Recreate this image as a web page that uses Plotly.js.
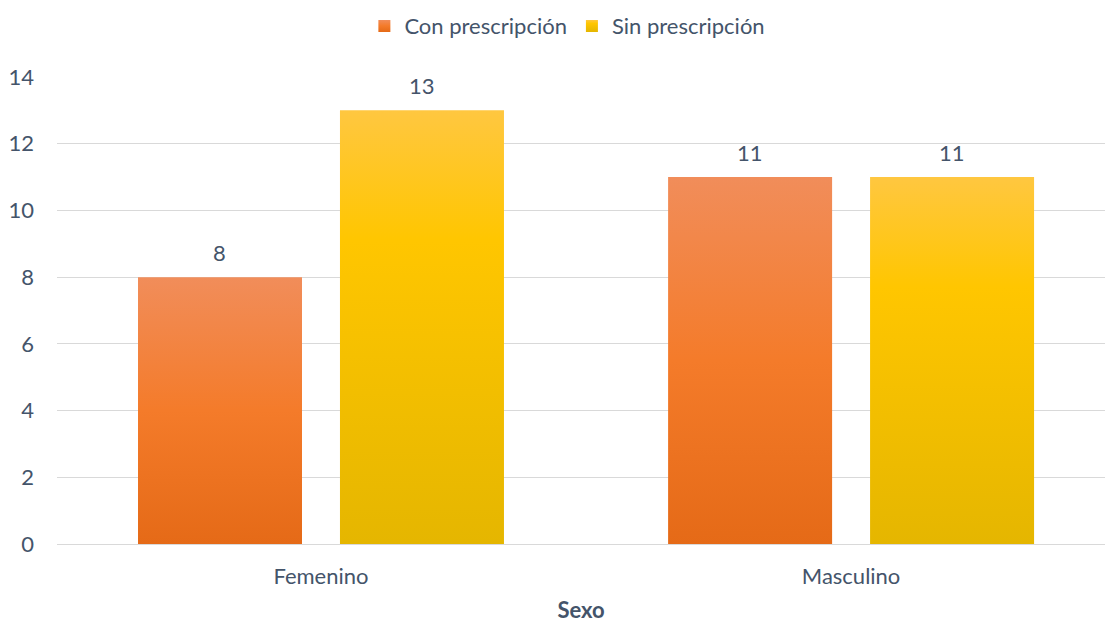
<!DOCTYPE html>
<html>
<head>
<meta charset="utf-8">
<script src="https://cdn.plot.ly/plotly-3.0.1.min.js"></script>
<style>html,body{margin:0;padding:0;background:#fff;}#chart{width:1107px;height:623px;}</style>
</head>
<body>
<div id="chart"></div>
<script>
const categories = ["Femenino", "Masculino"];
const seriesNames = ["Con prescripción", "Sin prescripción"];
const conPrescripcion = [8, 11];
const sinPrescripcion = [13, 11];
const yTicks = [0, 2, 4, 6, 8, 10, 12, 14];
const xTitle = "Sexo";

const FONT = "Lato, 'Noto Sans', sans-serif";
const TXT = "#44546A";
const FS = 22;

const traces = [
  {type: "bar", name: seriesNames[0], x: categories, y: conPrescripcion,
   marker: {color: "#F07D30"}, hoverinfo: "skip"},
  {type: "bar", name: seriesNames[1], x: categories, y: sinPrescripcion,
   marker: {color: "#F5C000"}, hoverinfo: "skip"}
];

// data labels placed via the library's scales (category + group offset)
const annotations = [];
[conPrescripcion, sinPrescripcion].forEach((vals, si) => {
  vals.forEach((v, ci) => {
    annotations.push({
      x: ci + (si === 0 ? -0.1906 : 0.1906), y: v, xref: "x", yref: "y",
      text: String(v), showarrow: false, yanchor: "middle", yshift: 25,
      font: {family: FONT, size: FS, color: TXT}
    });
  });
});

const layout = {
  width: 1107, height: 623,
  margin: {l: 57, r: 2, t: 77, b: 79, autoexpand: false},
  paper_bgcolor: "#fff", plot_bgcolor: "#fff",
  font: {family: FONT, size: FS, color: TXT},
  barmode: "group", bargap: 0.238, bargroupgap: 0.188,
  showlegend: true,
  legend: {orientation: "h", x: 0.487, xanchor: "center", y: 1.109, yanchor: "middle",
           font: {family: FONT, size: FS, color: TXT}, itemwidth: 30, traceorder: "normal"},
  annotations: annotations,
  xaxis: {type: "category", range: [-0.498, 1.479], showgrid: false, zeroline: false, showline: false, ticks: "",
          tickfont: {family: FONT, size: FS, color: TXT}, ticklabelstandoff: 17,
          title: {text: "<b>" + xTitle + "</b>", font: {family: FONT, size: FS, color: TXT}, standoff: 23}},
  yaxis: {range: [0, 14], tickvals: yTicks, ticktext: yTicks.map(String),
          showgrid: true, gridcolor: "#D9D9D9", gridwidth: 1,
          zeroline: true, zerolinecolor: "#D9D9D9", zerolinewidth: 1,
          showline: false, ticks: "", ticklabelstandoff: 22,
          tickfont: {family: FONT, size: FS, color: TXT}}
};

function applyGradients(gd) {
  const svg = gd.querySelector("svg.main-svg");
  if (!svg) return;
  const ns = "http://www.w3.org/2000/svg";
  let defs = svg.querySelector("defs");
  if (!defs) { defs = document.createElementNS(ns, "defs"); svg.insertBefore(defs, svg.firstChild); }
  const grads = [
    {id: "gOrange", stops: [["0", "#F18D5A"], ["0.5", "#F47B2A"], ["1", "#E56A17"]]},
    {id: "gYellow", stops: [["0", "#FFC740"], ["0.3", "#FFC600"], ["1", "#E5B600"]]}
  ];
  grads.forEach(g => {
    if (svg.querySelector("#" + g.id)) return;
    const lg = document.createElementNS(ns, "linearGradient");
    lg.setAttribute("id", g.id);
    lg.setAttribute("x1", "0"); lg.setAttribute("y1", "0");
    lg.setAttribute("x2", "0"); lg.setAttribute("y2", "1");
    g.stops.forEach(s => {
      const st = document.createElementNS(ns, "stop");
      st.setAttribute("offset", s[0]); st.setAttribute("stop-color", s[1]);
      lg.appendChild(st);
    });
    defs.appendChild(lg);
  });
  const ids = ["gOrange", "gYellow"];
  gd.querySelectorAll(".barlayer .trace.bars").forEach((t, i) => {
    t.querySelectorAll("path").forEach(p => { p.style.fill = "url(#" + ids[i % 2] + ")"; });
  });
  gd.querySelectorAll(".legend .traces").forEach((t, i) => {
    t.querySelectorAll(".legendpoints path").forEach(p => { p.style.fill = "url(#" + ids[i % 2] + ")"; p.style.stroke = "none"; });
  });
}

Plotly.newPlot("chart", traces, layout, {displayModeBar: false, staticPlot: true}).then(gd => {
  applyGradients(gd);
  gd.on("plotly_afterplot", () => applyGradients(gd));
});
</script>
</body>
</html>
